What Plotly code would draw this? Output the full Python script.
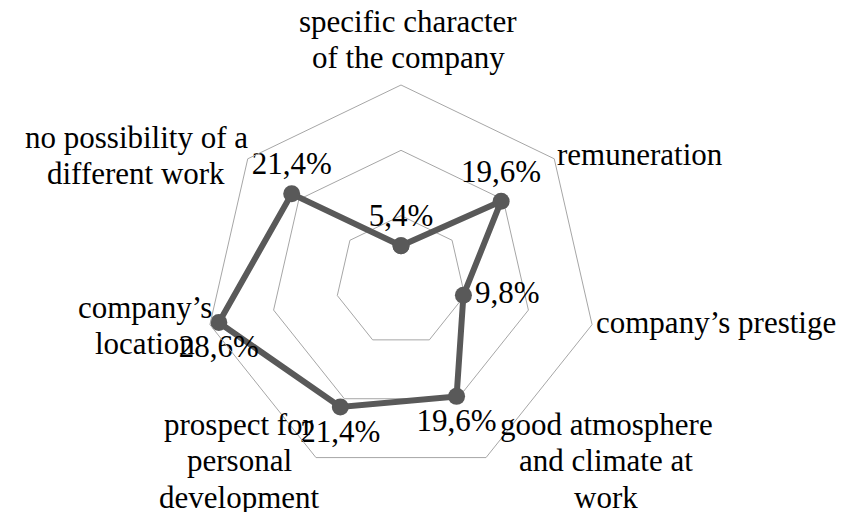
import plotly.graph_objects as go

# Données (en %)
categories = [
    "specific character of the company",
    "remuneration",
    "company’s prestige",
    "good atmosphere and climate at work",
    "prospect for personal development",
    "company’s location",
    "no possibility of a different work",
]
values = [5.4, 19.6, 9.8, 19.6, 21.4, 28.6, 21.4]
label_lines = [
    ["specific character", "of the company"],
    ["remuneration"],
    ["company’s prestige"],
    ["good atmosphere", "and climate at", "work"],
    ["prospect for", "personal", "development"],
    ["company’s", "location"],
    ["no possibility of a", "different work"],
]
radial_ticks = [10, 20, 30]

W, H = 846, 512
FONT = "Liberation Serif, Times New Roman, serif"
LINE = "#595959"
GRID = "#a6a6a6"

# Position des libellés de catégories (px) : x, y de la première ligne, ancrage
label_pos = [
    (400, 13, "center"),
    (547, 146, "left"),
    (586, 314, "left"),
    (598, 416, "center"),
    (231, 416, "center"),
    (137, 299, "center"),
    (128, 129, "center"),
]
text_pos = ["top center", "top center", "middle right", "bottom center",
            "bottom center", "bottom center", "top center"]
LINE_H = 36.5

texts = [f"{v:.1f}%".replace(".", ",") for v in values]

fig = go.Figure()
fig.add_trace(go.Scatterpolar(
    r=values + values[:1],
    theta=categories + categories[:1],
    mode="lines+markers+text",
    line=dict(color=LINE, width=6),
    marker=dict(color=LINE, size=17),
    text=texts + [""],
    textposition=text_pos + ["top center"],
    textfont=dict(family=FONT, size=31, color="black"),
    cliponaxis=False,
    hoverinfo="skip",
))

annotations = []
for lines, (px_, py_, anchor) in zip(label_lines, label_pos):
    for i, ln in enumerate(lines):
        annotations.append(dict(
            text=ln, showarrow=False,
            xref="paper", yref="paper",
            x=px_ / W, y=1 - (py_ + i * LINE_H) / H,
            xanchor=anchor, yanchor="middle",
            font=dict(family=FONT, size=31, color="black"),
        ))

# plotly centre la boîte englobante de l'heptagone : on décale le domaine
cx, cy, R = 393, 273, 196
fig.update_layout(
    width=W, height=H,
    margin=dict(l=0, r=0, t=0, b=0),
    paper_bgcolor="white",
    showlegend=False,
    polar=dict(
        domain=dict(x=[(cx - R) / W, (cx + R) / W],
                    y=[1 - (cy + R) / H, 1 - (cy - R) / H]),
        gridshape="linear",
        bgcolor="white",
        radialaxis=dict(
            range=[0, radial_ticks[-1]], tickvals=radial_ticks,
            showticklabels=False, ticks="", showline=False,
            gridcolor=GRID, gridwidth=1,
        ),
        angularaxis=dict(
            direction="clockwise", rotation=90,
            showgrid=False, showticklabels=False, ticks="",
            linecolor=GRID, linewidth=1,
        ),
    ),
    annotations=annotations,
)

fig.write_html("out.html")
